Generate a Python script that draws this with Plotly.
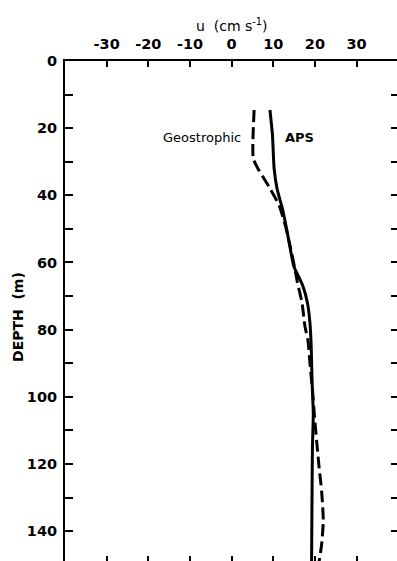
import plotly.graph_objects as go

# Velocity profiles: depth (m) and eastward velocity u (cm/s)
aps_depth = [14.6, 22, 32, 38, 44, 50, 56, 61, 64, 67, 72, 78, 85, 95, 105, 115, 130, 149]
aps_u = [9.2, 9.8, 10.2, 10.9, 12.2, 13.2, 14.1, 14.9, 16.0, 17.1, 18.2, 18.8, 19.1, 19.3, 19.6, 19.4, 19.3, 19.2]

geo_depth = [14.6, 29, 32, 37.5, 43, 49, 56, 62, 66, 72, 79, 83, 90, 98, 106, 113, 121, 128, 137, 144, 149]
geo_u = [5.4, 5.2, 6.3, 9.0, 11.4, 12.9, 14.2, 15.2, 15.8, 16.9, 17.6, 18.3, 18.8, 19.4, 19.9, 20.4, 21.0, 21.6, 22.0, 21.6, 21.0]

u_ticks = [-30, -20, -10, 0, 10, 20, 30]
u_tick_text = ["-30", "-20", "-10", "0", "10", "20", "30"]
depth_major = [0, 20, 40, 60, 80, 100, 120, 140]
depth_minor = [10, 30, 50, 70, 90, 110, 130]
depth_all = [10, 20, 30, 40, 50, 60, 70, 80, 90, 100, 110, 120, 130, 140]

X_RANGE = [-40, 39.7]
Y_RANGE = [148.9, 0]
FONT = "DejaVu Sans"

fig = go.Figure()

fig.add_trace(go.Scatter(
    x=geo_u, y=geo_depth, mode="lines", name="Geostrophic",
    line=dict(color="black", width=3, dash="12px,5px", shape="spline", smoothing=0.6),
    showlegend=False, hoverinfo="skip",
))
fig.add_trace(go.Scatter(
    x=aps_u, y=aps_depth, mode="lines", name="APS",
    line=dict(color="black", width=3, shape="spline", smoothing=0.6),
    showlegend=False, hoverinfo="skip",
))
# empty trace so the mirrored tick-only axes get drawn
fig.add_trace(go.Scatter(x=[], y=[], xaxis="x2", yaxis="y2",
                         showlegend=False, hoverinfo="skip"))

fig.update_layout(
    width=397, height=561,
    margin=dict(l=65, r=0, t=61, b=0, pad=0),
    paper_bgcolor="white", plot_bgcolor="white",
    font=dict(family=FONT, color="black"),
    xaxis=dict(
        side="top", range=X_RANGE, showgrid=False, zeroline=False,
        showline=True, linecolor="black", linewidth=2,
        ticks="inside", ticklen=6, tickwidth=2, tickcolor="black",
        tickvals=u_ticks, ticktext=u_tick_text,
        tickfont=dict(family=FONT, size=14.5, color="black", weight="bold"),
        ticklabelstandoff=4,
    ),
    yaxis=dict(
        range=Y_RANGE, showgrid=False, zeroline=False,
        showline=True, linecolor="black", linewidth=2,
        ticks="inside", ticklen=8, tickwidth=2, tickcolor="black",
        tickvals=depth_major, ticktext=[str(v) for v in depth_major],
        tickfont=dict(family=FONT, size=14.5, color="black", weight="bold"),
        ticklabelstandoff=3,
        minor=dict(tickvals=depth_minor, ticks="inside", ticklen=8,
                   tickwidth=2, tickcolor="black", showgrid=False),
    ),
    xaxis2=dict(
        overlaying="x", side="bottom", anchor="y", range=X_RANGE,
        showgrid=False, zeroline=False, showline=False,
        ticks="inside", ticklen=5, tickwidth=2, tickcolor="black",
        tickvals=u_ticks, showticklabels=False,
    ),
    yaxis2=dict(
        overlaying="y", side="right", anchor="x", range=Y_RANGE,
        showgrid=False, zeroline=False, showline=False,
        ticks="inside", ticklen=6, tickwidth=2, tickcolor="black",
        tickvals=depth_all, showticklabels=False,
    ),
    annotations=[
        dict(text="u\u00a0\u00a0(cm\u00a0s<sup>-1</sup>)", xref="x", x=0,
             yref="paper", y=1.072, yanchor="middle", xanchor="center",
             showarrow=False, font=dict(family=FONT, size=14, color="black")),
        dict(text="DEPTH\u00a0\u00a0(m)", xref="paper", x=-0.1416,
             yref="paper", y=0.488, xanchor="center", yanchor="middle",
             textangle=-90, showarrow=False,
             font=dict(family=FONT, size=14, color="black", weight="bold")),
        dict(text="Geostrophic", xref="x", x=2.7, yref="y", y=22.8,
             xanchor="right", yanchor="middle", showarrow=False,
             font=dict(family=FONT, size=13, color="black")),
        dict(text="APS", xref="x", x=12.4, yref="y", y=22.8,
             xanchor="left", yanchor="middle", showarrow=False,
             font=dict(family=FONT, size=13, color="black", weight="bold")),
    ],
)

fig.write_html("out.html")
